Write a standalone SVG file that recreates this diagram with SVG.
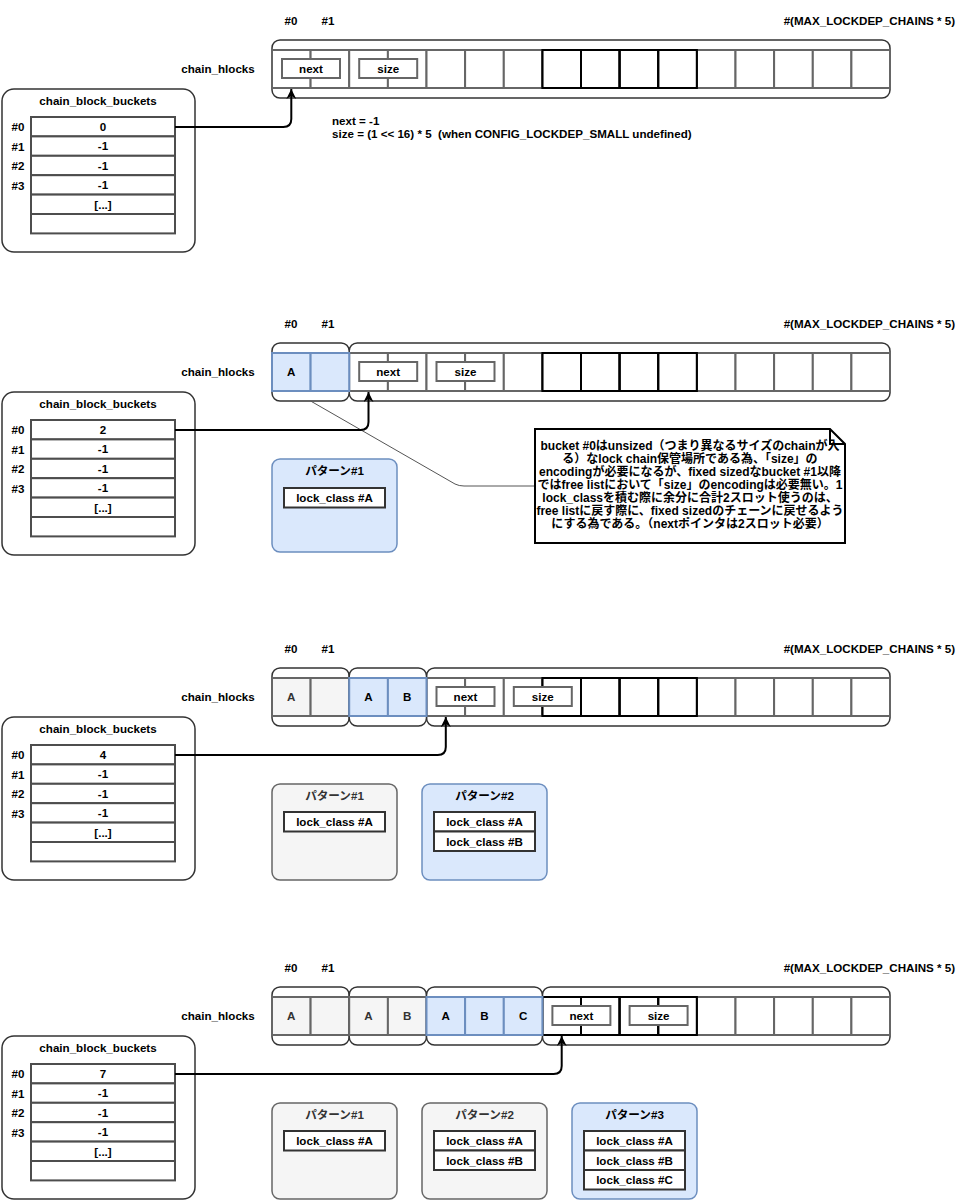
<svg xmlns="http://www.w3.org/2000/svg" width="968" height="1200" viewBox="0 0 968 1200">
<style>
text{font-family:"Liberation Sans","Noto Sans CJK JP",Arial,sans-serif;font-weight:bold;font-size:11.6px;fill:#000}
.c{text-anchor:middle}
.g3{fill:#333}
.note{font-size:12px;text-anchor:middle}
.outer{fill:#fff;stroke:#333;stroke-width:1.5}
.cell{fill:#fff;stroke:#666;stroke-width:2}
.blue{fill:#dae8fc;stroke:#6c8ebf;stroke-width:2}
.grey{fill:#f5f5f5;stroke:#666;stroke-width:2}
.dark{fill:none;stroke:#000;stroke-width:2}
.box{fill:#fff;stroke:#666;stroke-width:2}
.panel{fill:#fff;stroke:#333;stroke-width:1.5}
.row{fill:#fff;stroke:#4d4d4d;stroke-width:2}
.pblue{fill:#dae8fc;stroke:#6c8ebf;stroke-width:1.5}
.pgrey{fill:#f5f5f5;stroke:#666;stroke-width:1.5}
.lc{fill:#fff;stroke:#333;stroke-width:2}
.conn{fill:none;stroke:#000;stroke-width:2;marker-end:url(#ah)}
.thin{fill:none;stroke:#555;stroke-width:1}
</style>
<defs>
<marker id="ah" viewBox="0 0 10 10" refX="10" refY="5" markerWidth="10" markerHeight="10" markerUnits="userSpaceOnUse" orient="auto">
<path d="M0,0 L10,5 L0,10 L3,5 Z" fill="#000"/>
</marker>
<g id="buckets">
<rect class="panel" x="2" y="89" width="193" height="163" rx="12"/>
<text class="c" x="98" y="105">chain_block_buckets</text>
<rect class="row" x="31" y="117" width="144" height="19.4"/>
<rect class="row" x="31" y="136.4" width="144" height="19.4"/>
<rect class="row" x="31" y="155.8" width="144" height="19.4"/>
<rect class="row" x="31" y="175.2" width="144" height="19.4"/>
<rect class="row" x="31" y="194.6" width="144" height="19.4"/>
<rect class="row" x="31" y="214" width="144" height="19.4"/>
<text class="c" x="18" y="131">#0</text>
<text class="c" x="18" y="151">#1</text>
<text class="c" x="18" y="170">#2</text>
<text class="c" x="18" y="190">#3</text>
<text class="c" x="103" y="150">-1</text>
<text class="c" x="103" y="170">-1</text>
<text class="c" x="103" y="189">-1</text>
<text class="c" x="103" y="209">[...]</text>
</g>
<g id="hdr">
<text class="c" x="291" y="25">#0</text>
<text class="c" x="328" y="25">#1</text>
<text x="955" y="25" text-anchor="end">#(MAX_LOCKDEP_CHAINS * 5)</text>
<text class="c" x="218" y="73">chain_hlocks</text>
</g>
<g id="cellsW">
<rect class="cell" x="272" y="50" width="38.6" height="38"/>
<rect class="cell" x="310.6" y="50" width="38.6" height="38"/>
<rect class="cell" x="349.2" y="50" width="38.7" height="38"/>
<rect class="cell" x="387.9" y="50" width="38.6" height="38"/>
<rect class="cell" x="426.5" y="50" width="38.6" height="38"/>
<rect class="cell" x="465.1" y="50" width="38.7" height="38"/>
<rect class="cell" x="503.8" y="50" width="38.6" height="38"/>
<rect class="cell" x="542.4" y="50" width="38.6" height="38"/>
<rect class="cell" x="581" y="50" width="38.6" height="38"/>
<rect class="cell" x="619.6" y="50" width="38.6" height="38"/>
<rect class="cell" x="658.2" y="50" width="38.7" height="38"/>
<rect class="cell" x="696.9" y="50" width="38.6" height="38"/>
<rect class="cell" x="735.5" y="50" width="38.6" height="38"/>
<rect class="cell" x="774.1" y="50" width="38.7" height="38"/>
<rect class="cell" x="812.8" y="50" width="38.6" height="38"/>
<rect class="cell" x="851.4" y="50" width="38.6" height="38"/>
</g>
<g id="cellsD">
<rect class="dark" x="542.4" y="50" width="38.6" height="38"/>
<rect class="dark" x="581" y="50" width="38.6" height="38"/>
<rect class="dark" x="619.6" y="50" width="38.6" height="38"/>
<rect class="dark" x="658.2" y="50" width="38.7" height="38"/>
</g>
</defs>

<!-- Section 1 -->
<g id="section1">
<use href="#hdr"/>
<g id="s1-chain">
<rect class="outer" x="272" y="40" width="618" height="58" rx="8"/>
<use href="#cellsW"/>
<use href="#cellsD"/>
</g>
<g id="s1-next"><rect class="box" x="282" y="59" width="58" height="19"/><text class="c" x="311" y="73">next</text></g>
<g id="s1-size"><rect class="box" x="359.2" y="59" width="58" height="19"/><text class="c" x="388.2" y="73">size</text></g>
<g id="s1-buckets"><use href="#buckets"/><text class="c" x="103" y="131">0</text></g>
<g id="s1-info"><text x="332" y="125">next = -1</text><text x="332" y="138" xml:space="preserve">size = (1 &lt;&lt; 16) * 5  (when CONFIG_LOCKDEP_SMALL undefined)</text></g>
<g id="s1-conn"><path class="conn" d="M175 127 H283.3 Q291.3 127 291.3 119 V89"/></g>
</g>

<!-- Section 2 -->
<g id="section2" transform="translate(0,303)">
<use href="#hdr"/>
<g id="s2-chain">
<rect class="outer" x="349.2" y="40" width="540.8" height="58" rx="8"/>
<use href="#cellsW"/>
<use href="#cellsD"/>
</g>
<g id="s2-grpA">
<rect class="outer" x="272" y="40" width="77.2" height="58" rx="8"/>
<rect class="blue" x="272" y="50" width="38.6" height="38"/>
<rect class="blue" x="310.6" y="50" width="38.6" height="38"/>
<text class="c" x="291.3" y="73">A</text>
</g>
<g id="s2-next"><rect class="box" x="359.2" y="59" width="58" height="19"/><text class="c" x="388.2" y="73">next</text></g>
<g id="s2-size"><rect class="box" x="436.5" y="59" width="58" height="19"/><text class="c" x="465.5" y="73">size</text></g>
<g id="s2-buckets"><use href="#buckets"/><text class="c" x="103" y="131">2</text></g>
<g id="s2-pat1">
<rect class="pblue" x="272" y="156" width="125" height="93" rx="8"/>
<text class="c" x="334.5" y="172">パターン#1</text>
<rect class="lc" x="284" y="185" width="101" height="19.5"/>
<text class="c" x="334.5" y="199">lock_class #A</text>
</g>
<g id="s2-connectors">
<path class="thin" d="M310.6 98 L455 181 Q459 183 464 183 H535"/>
<path class="conn" d="M175 127 H360.5 Q368.5 127 368.5 119 V89"/>
</g>
<g id="s2-note">
<path d="M535 126 H830 L845 141 V240 H535 Z" fill="#fff" stroke="#000" stroke-width="2"/>
<path d="M830 126 V141 H845" fill="none" stroke="#000" stroke-width="2"/>
<text class="note" x="690" y="147">bucket #0はunsized（つまり異なるサイズのchainが入</text>
<text class="note" x="690" y="160">る）なlock chain保管場所である為、「size」の</text>
<text class="note" x="690" y="173">encodingが必要になるが、fixed sizedなbucket #1以降</text>
<text class="note" x="690" y="186">ではfree listにおいて「size」のencodingは必要無い。1</text>
<text class="note" x="690" y="199">lock_classを積む際に余分に合計2スロット使うのは、</text>
<text class="note" x="690" y="212">free listに戻す際に、fixed sizedのチェーンに戻せるよう</text>
<text class="note" x="690" y="225">にする為である。（nextポインタは2スロット必要）</text>
</g>
</g>

<!-- Section 3 -->
<g id="section3" transform="translate(0,628)">
<use href="#hdr"/>
<g id="s3-chain">
<rect class="outer" x="426.5" y="40" width="463.5" height="58" rx="8"/>
<use href="#cellsW"/>
<use href="#cellsD"/>
</g>
<g id="s3-grp0">
<rect class="outer" x="272" y="40" width="77.2" height="58" rx="8"/>
<rect class="grey" x="272" y="50" width="38.6" height="38"/>
<rect class="grey" x="310.6" y="50" width="38.6" height="38"/>
<text class="c g3" x="291.3" y="73">A</text>
</g>
<g id="s3-grp1">
<rect class="outer" x="349.2" y="40" width="77.3" height="58" rx="8"/>
<rect class="blue" x="349.2" y="50" width="38.7" height="38"/>
<rect class="blue" x="387.9" y="50" width="38.6" height="38"/>
<text class="c" x="368.5" y="73">A</text>
<text class="c" x="407.2" y="73">B</text>
</g>
<g id="s3-next"><rect class="box" x="436.5" y="59" width="58" height="19"/><text class="c" x="465.5" y="73">next</text></g>
<g id="s3-size"><rect class="box" x="513.8" y="59" width="58" height="19"/><text class="c" x="542.8" y="73">size</text></g>
<g id="s3-buckets"><use href="#buckets"/><text class="c" x="103" y="131">4</text></g>
<g id="s3-pat1">
<rect class="pgrey" x="272" y="156" width="125" height="96" rx="8"/>
<text class="c g3" x="334.5" y="172">パターン#1</text>
<rect class="lc" x="284" y="184" width="101" height="19.5"/>
<text class="c" x="334.5" y="198">lock_class #A</text>
</g>
<g id="s3-pat2">
<rect class="pblue" x="422" y="156" width="125" height="96" rx="8"/>
<text class="c" x="484.5" y="172">パターン#2</text>
<rect class="lc" x="434" y="184" width="101" height="19.5"/>
<text class="c" x="484.5" y="198">lock_class #A</text>
<rect class="lc" x="434" y="203.5" width="101" height="19.5"/>
<text class="c" x="484.5" y="217.5">lock_class #B</text>
</g>
<g id="s3-connectors"><path class="conn" d="M175 127 H437.8 Q445.8 127 445.8 119 V89"/></g>
</g>

<!-- Section 4 -->
<g id="section4" transform="translate(0,947)">
<use href="#hdr"/>
<g id="s4-chain">
<rect class="outer" x="542.4" y="40" width="347.6" height="58" rx="8"/>
<use href="#cellsW"/>
<use href="#cellsD"/>
</g>
<g id="s4-grp0">
<rect class="outer" x="272" y="40" width="77.2" height="58" rx="8"/>
<rect class="grey" x="272" y="50" width="38.6" height="38"/>
<rect class="grey" x="310.6" y="50" width="38.6" height="38"/>
<text class="c g3" x="291.3" y="73">A</text>
</g>
<g id="s4-grp1">
<rect class="outer" x="349.2" y="40" width="77.3" height="58" rx="8"/>
<rect class="grey" x="349.2" y="50" width="38.7" height="38"/>
<rect class="grey" x="387.9" y="50" width="38.6" height="38"/>
<text class="c g3" x="368.5" y="73">A</text>
<text class="c g3" x="407.2" y="73">B</text>
</g>
<g id="s4-grp2">
<rect class="outer" x="426.5" y="40" width="115.9" height="58" rx="8"/>
<rect class="blue" x="426.5" y="50" width="38.6" height="38"/>
<rect class="blue" x="465.1" y="50" width="38.7" height="38"/>
<rect class="blue" x="503.8" y="50" width="38.6" height="38"/>
<text class="c" x="445.8" y="73">A</text>
<text class="c" x="484.5" y="73">B</text>
<text class="c" x="523.1" y="73">C</text>
</g>
<g id="s4-next"><rect class="box" x="552.4" y="59" width="58" height="19"/><text class="c" x="581.4" y="73">next</text></g>
<g id="s4-size"><rect class="box" x="629.6" y="59" width="58" height="19"/><text class="c" x="658.6" y="73">size</text></g>
<g id="s4-buckets"><use href="#buckets"/><text class="c" x="103" y="131">7</text></g>
<g id="s4-pat1">
<rect class="pgrey" x="272" y="156" width="125" height="96" rx="8"/>
<text class="c g3" x="334.5" y="172">パターン#1</text>
<rect class="lc" x="284" y="184" width="101" height="19.5"/>
<text class="c" x="334.5" y="198">lock_class #A</text>
</g>
<g id="s4-pat2">
<rect class="pgrey" x="422" y="156" width="125" height="96" rx="8"/>
<text class="c g3" x="484.5" y="172">パターン#2</text>
<rect class="lc" x="434" y="184" width="101" height="19.5"/>
<text class="c" x="484.5" y="198">lock_class #A</text>
<rect class="lc" x="434" y="203.5" width="101" height="19.5"/>
<text class="c" x="484.5" y="217.5">lock_class #B</text>
</g>
<g id="s4-pat3">
<rect class="pblue" x="572" y="156" width="125" height="96" rx="8"/>
<text class="c" x="634.5" y="172">パターン#3</text>
<rect class="lc" x="584" y="184" width="101" height="19.5"/>
<text class="c" x="634.5" y="198">lock_class #A</text>
<rect class="lc" x="584" y="203.5" width="101" height="19.5"/>
<text class="c" x="634.5" y="217.5">lock_class #B</text>
<rect class="lc" x="584" y="223" width="101" height="19.5"/>
<text class="c" x="634.5" y="237">lock_class #C</text>
</g>
<g id="s4-connectors"><path class="conn" d="M175 127 H553.7 Q561.7 127 561.7 119 V89"/></g>
</g>
</svg>
